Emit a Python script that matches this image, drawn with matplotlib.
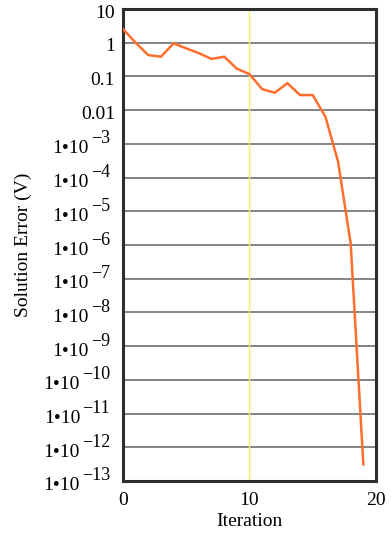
import numpy as np
import matplotlib
matplotlib.use("Agg")
import matplotlib.pyplot as plt
import matplotlib.transforms as mtransforms

plt.rcParams["font.family"] = ["Liberation Serif", "DejaVu Serif"]

# data
iteration = [0, 1, 2, 3, 4, 5, 6, 7, 8, 9, 10, 11, 12, 13, 14, 15, 16, 17, 18, 19]
error = [2.55, 1.0, 0.43, 0.385, 0.96, 0.68, 0.49, 0.33, 0.385, 0.17, 0.117,
         0.042, 0.033, 0.063, 0.028, 0.028, 0.0064, 3.0e-4, 1.1e-6, 3.1e-13]

y_exps = list(range(1, -14, -1))
plain_labels = {1: "10", 0: "1", -1: "0.1", -2: "0.01"}
x_ticks = [0, 10, 20]

fig = plt.figure(figsize=(3.91, 5.37), dpi=100)
ax = fig.add_axes([0.3146, 0.1043, 0.647, 0.8789])

ax.set_yscale("log")
ax.set_ylim(1e-13, 10)
ax.set_xlim(0, 20)

for e in y_exps[1:-1]:
    ax.axhline(10.0 ** e, color="#6e6e6e", lw=1.2, zorder=1)
ax.axvline(10, color="#f0ee70", lw=1.0, zorder=1)

ax.plot(iteration, error, color="#ff6e2c", lw=1.8, zorder=3)

# y tick labels drawn as text so the exponents can sit large and raised
ax.set_yticks([10.0 ** e for e in y_exps])
ax.set_yticklabels([])
ax.minorticks_off()
trans = mtransforms.blended_transform_factory(ax.transAxes, ax.transData)
for e in y_exps:
    if e in plain_labels:
        ax.annotate(plain_labels[e], (0, 10.0 ** e), xycoords=trans,
                    xytext=(-8, -4), textcoords="offset pixels",
                    ha="right", va="center", fontsize=14, annotation_clip=False)
    else:
        sup = ax.annotate("\u2212%d" % -e, (0, 10.0 ** e), xycoords=trans,
                          xytext=(-13, 5), textcoords="offset pixels",
                          ha="right", va="center", fontsize=13,
                          annotation_clip=False)
        ax.annotate("1•10", (0, 0.5), xycoords=sup,
                    xytext=(-2, -10), textcoords="offset pixels",
                    ha="right", va="center", fontsize=14, annotation_clip=False)

ax.set_xticks(x_ticks)
ax.tick_params(axis="both", length=0, labelsize=14, pad=8)

for s in ax.spines.values():
    s.set_linewidth(2.2)
    s.set_color("#2e2e2e")

ax.set_ylabel("Solution Error (V)", fontsize=14)
ax.yaxis.set_label_coords(-0.358, 0.5)
ax.set_xlabel("Iteration", fontsize=14, labelpad=3)

fig.savefig("out.png", dpi=100)
